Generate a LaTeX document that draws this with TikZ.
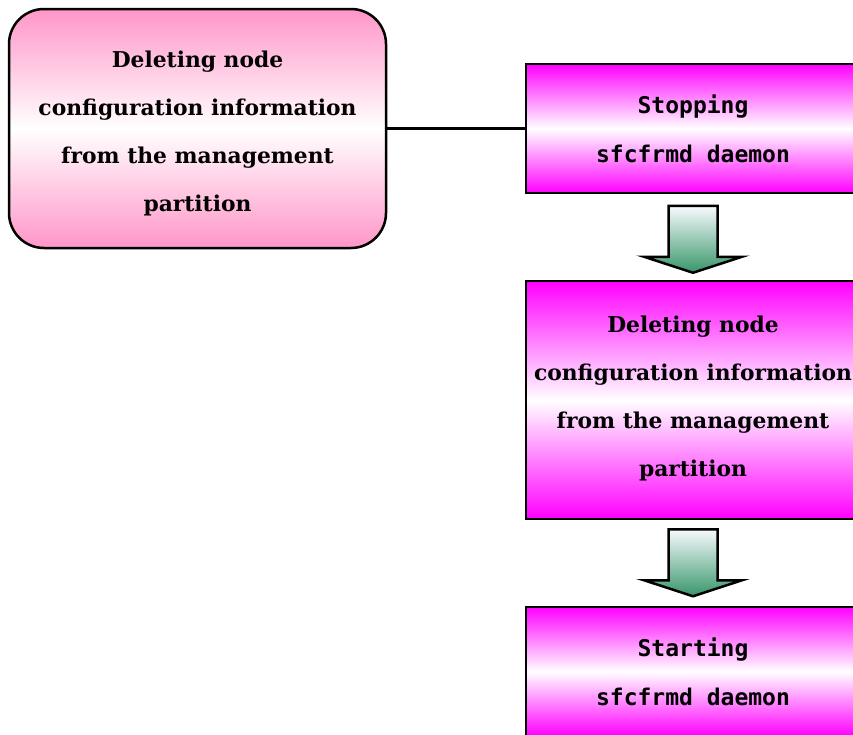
\documentclass[tikz,border=0pt]{standalone}
\usepackage{fontspec}
\newfontfamily\boxserif{DejaVu Serif}
\newfontfamily\boxmono{DejaVu Sans Mono}
\definecolor{pinkbox}{RGB}{255,150,200}
\definecolor{magbox}{RGB}{255,0,255}
\definecolor{arrowtop}{RGB}{248,250,255}
\definecolor{arrowbot}{RGB}{55,150,105}
\tikzset{
  frame/.style={draw=black, line width=2.5pt},
  leftbox/.style={frame, rounded corners=35pt, top color=pinkbox, bottom color=pinkbox, middle color=white,
    minimum width=377pt, minimum height=239pt, inner sep=0pt},
  stepbox/.style={frame, top color=magbox, bottom color=magbox, middle color=white,
    minimum width=334pt, inner sep=0pt},
  seriftext/.style={align=center, inner sep=0pt, font=\boxserif\bfseries\fontsize{21.8}{48}\selectfont},
  monotext/.style={align=center, inner sep=0pt, font=\boxmono\bfseries\fontsize{23}{49}\selectfont},
  flowarrowstyle/.style={draw=black, line width=2.5pt, line join=miter, top color=arrowtop, bottom color=arrowbot}
}
\newcommand\myflowarrow[1]{%
  \begin{scope}[shift={(#1)}]
    \shade[flowarrowstyle] (-24.5,0) -- (24.5,0) -- (24.5,51) -- (49,51) -- (0,67) -- (-49,51) -- (-24.5,51) -- cycle;
  \end{scope}}
\begin{document}
\begin{tikzpicture}[x=1pt,y=-1pt]
\useasboundingbox (0,0) rectangle (853,734);
\clip (0,0) rectangle (853,734);
\fill[white] (0,0) rectangle (853,734);
% frames
\node[leftbox] (del) at (197.5,128.5) {};
\node[stepbox, minimum height=129pt] (stop) at (693,128.5) {};
\node[stepbox, minimum height=238pt] (delmp) at (693,400) {};
\node[stepbox, minimum height=129pt] (start) at (693,671.5) {};
% texts
\node[seriftext] (deltext) at (197.5,133) {Deleting node\\configuration information\\from the management\\partition};
\node[monotext] (stoptext) at (693,128.5) {Stopping\\sfcfrmd daemon};
\node[seriftext] (delmptext) at (693,398) {Deleting node\\configuration information\\from the management\\partition};
\node[monotext] (starttext) at (693,671.5) {Starting\\sfcfrmd daemon};
% connector
\draw[line width=2.5pt] (del.east) -- (stop.west);
% arrows
\path (stop.south) ++(0,11.5) coordinate (a1);
\path (delmp.south) ++(0,9) coordinate (a2);
\myflowarrow{a1}
\myflowarrow{a2}
\end{tikzpicture}
\end{document}
